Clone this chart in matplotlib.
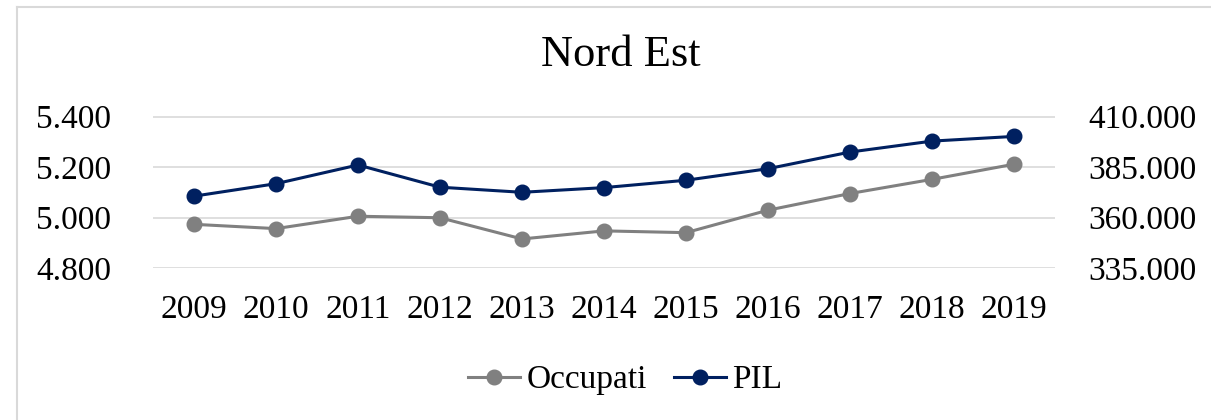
import matplotlib
matplotlib.use("Agg")
import matplotlib.pyplot as plt
from matplotlib.lines import Line2D
from matplotlib.ticker import FuncFormatter, FixedLocator

# data
years = ["2009", "2010", "2011", "2012", "2013", "2014", "2015", "2016", "2017", "2018", "2019"]
occupati = [4973, 4956, 5005, 4999, 4915, 4947, 4940, 5029, 5095, 5151, 5211]
pil = [370560, 376740, 386000, 375000, 372480, 374790, 378440, 384160, 392400, 397820, 400140]

left_ticks = [4800, 5000, 5200, 5400]
right_ticks = [335000, 360000, 385000, 410000]

GREY = "#808080"
NAVY = "#002060"
GRID = "#d9d9d9"

plt.rcParams["font.family"] = ["Liberation Serif", "DejaVu Serif"]
FS = 24


def it_fmt(v, pos=None):
    return f"{v:,.0f}".replace(",", ".")


fig = plt.figure(figsize=(12.11, 4.2), dpi=100)
ax1 = fig.add_axes([153 / 1211, 1 - 268 / 420, (1055 - 153) / 1211, (268 - 116.5) / 420])
ax2 = ax1.twinx()

x = list(range(len(years)))
ax1.plot(x, occupati, color=GREY, lw=2.2, marker="o", ms=10.5, label="Occupati", zorder=3)
ax2.plot(x, pil, color=NAVY, lw=2.2, marker="o", ms=10.5, label="PIL", zorder=3)

ax1.set_xlim(-0.5, len(years) - 0.5)
ax1.set_ylim(left_ticks[0], left_ticks[-1])
ax2.set_ylim(right_ticks[0], right_ticks[-1])
ax1.yaxis.set_major_locator(FixedLocator(left_ticks))
ax2.yaxis.set_major_locator(FixedLocator(right_ticks))
ax1.yaxis.set_major_formatter(FuncFormatter(it_fmt))
ax2.yaxis.set_major_formatter(FuncFormatter(it_fmt))
ax1.set_xticks(x)
ax1.set_xticklabels(years)

ax1.grid(axis="y", color=GRID, lw=1.2, zorder=0)
ax1.set_axisbelow(True)
for a in (ax1, ax2):
    for s in a.spines.values():
        s.set_visible(False)
ax1.tick_params(axis="y", length=0, labelsize=FS, pad=30)
ax2.tick_params(axis="y", length=0, labelsize=FS, pad=24)
ax1.tick_params(axis="x", length=0, labelsize=FS, pad=19)

fig.text(621 / 1211, 1 - 65.7 / 420, "Nord Est", ha="center", va="baseline", fontsize=32)

handles = [ax1.get_lines()[0], ax2.get_lines()[0]]
fig.legend(handles, ["Occupati", "PIL"], loc="center", bbox_to_anchor=(625 / 1211, 1 - 380 / 420),
           ncol=2, frameon=False, fontsize=FS, handlelength=1.56, handletextpad=0.2,
           columnspacing=0.8, borderaxespad=0, borderpad=0)

# chart-area border (cropped at right and bottom)
bx, by = 17 / 1211, 1 - 7 / 420
fig.add_artist(Line2D([bx, bx], [0, by], transform=fig.transFigure, color=GRID, lw=1.5))
fig.add_artist(Line2D([bx, 1], [by, by], transform=fig.transFigure, color=GRID, lw=1.5))

fig.savefig("out.png", dpi=100, facecolor="white")
